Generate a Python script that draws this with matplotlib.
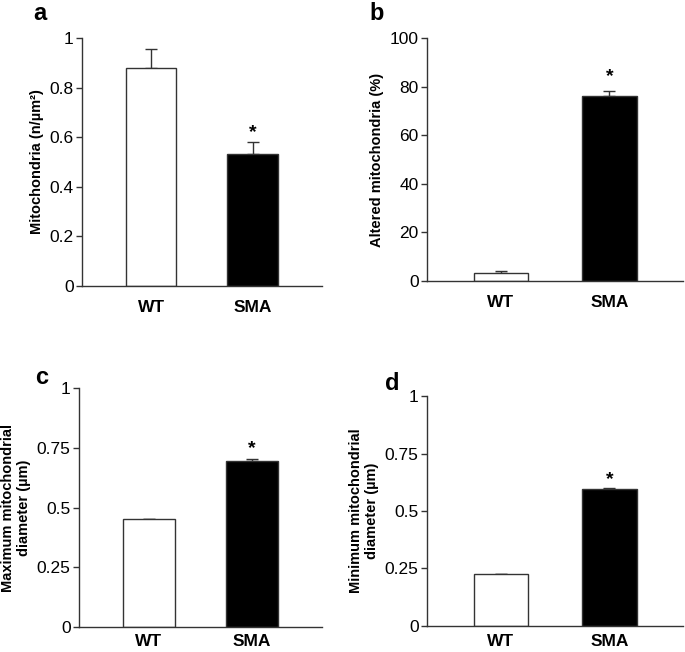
import matplotlib
matplotlib.use("Agg")
import matplotlib.pyplot as plt

plt.rcParams['font.family'] = ['Liberation Sans', 'DejaVu Sans']

groups = ["WT", "SMA"]
colors = ["white", "black"]

dens_mean = [0.88, 0.532]
dens_err = [0.075, 0.05]

altered_mean = [3.5, 76.0]
altered_err = [0.5, 2.0]

maxdiam_mean = [0.45, 0.695]
maxdiam_err = [0.003, 0.007]

mindiam_mean = [0.225, 0.595]
mindiam_err = [0.003, 0.007]

fig = plt.figure(figsize=(6.85, 6.52), dpi=100)

def panel(rect, means, errs, ylim, ticks, ticklabels, ylabel, letter, letter_xy, star_y, xpad):
    ax = fig.add_axes(rect)
    x = [0, 1]
    ax.bar(x, means, width=0.5, color=colors, edgecolor='#333333', linewidth=1, zorder=2)
    ax.errorbar(x, means, yerr=[[0, 0], errs], fmt='none', ecolor='#333333',
                elinewidth=1, capsize=4, capthick=1, zorder=1)
    ax.set_xlim(-0.68, 1.68)
    ax.set_ylim(*ylim)
    ax.set_yticks(ticks)
    ax.set_yticklabels(ticklabels, fontsize=12.5)
    ax.set_xticks(x)
    ax.set_xticklabels(groups, fontsize=12.5, fontweight='bold')
    ax.tick_params(axis='x', length=0, pad=xpad)
    ax.tick_params(axis='y', length=4, width=1, color='#333333', pad=2)
    for s in ['top', 'right']:
        ax.spines[s].set_visible(False)
    for s in ['left', 'bottom']:
        ax.spines[s].set_color('#333333')
        ax.spines[s].set_linewidth(1)
    ax.set_ylabel(ylabel, fontsize=10.5, fontweight='bold', labelpad=4)
    ax.text(1, star_y, "*", ha='center', va='center', fontsize=14, fontweight='bold')
    fig.text(letter_xy[0], letter_xy[1], letter, fontsize=17, fontweight='bold',
             ha='center', va='center')
    return ax

panel([0.1197, 0.5613, 0.350, 0.3804], dens_mean, dens_err, (0, 1),
      [0, 0.2, 0.4, 0.6, 0.8, 1], ["0", "0.2", "0.4", "0.6", "0.8", "1"],
      "Mitochondria (n/µm²)", "a", (40 / 685, 1 - 14 / 652), 0.62, 10)

panel([0.6234, 0.569, 0.374, 0.3727], altered_mean, altered_err, (0, 100),
      [0, 20, 40, 60, 80, 100], ["0", "20", "40", "60", "80", "100"],
      "Altered mitochondria (%)", "b", (377 / 685, 1 - 14 / 652), 84, 10)

panel([0.1153, 0.0383, 0.3547, 0.3666], maxdiam_mean, maxdiam_err, (0, 1),
      [0, 0.25, 0.5, 0.75, 1], ["0", "0.25", "0.5", "0.75", "1"],
      "Maximum mitochondrial\ndiameter (µm)", "c", (42 / 685, 1 - 378 / 652), 0.745, 5)

panel([0.6234, 0.0399, 0.374, 0.3527], mindiam_mean, mindiam_err, (0, 1),
      [0, 0.25, 0.5, 0.75, 1], ["0", "0.25", "0.5", "0.75", "1"],
      "Minimum mitochondrial\ndiameter (µm)", "d", (392 / 685, 1 - 383 / 652), 0.635, 6)

plt.savefig('out.png', dpi=100)
